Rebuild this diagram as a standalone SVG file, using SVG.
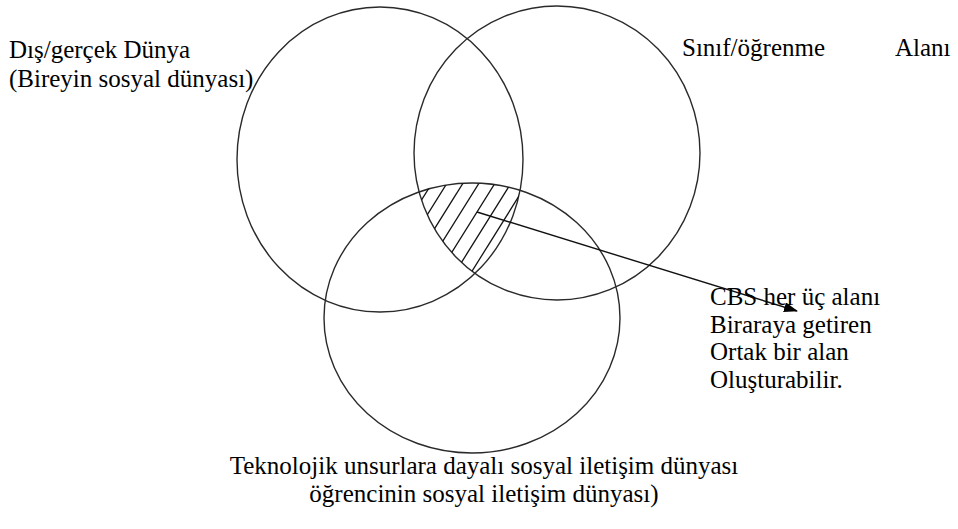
<svg xmlns="http://www.w3.org/2000/svg" width="958" height="529" viewBox="0 0 958 529">
  <style>
    .c { fill: none; stroke: #2a2a2a; stroke-width: 1.4; }
    .t { font-family: "Liberation Serif", "Times New Roman", serif; font-size: 25px; fill: #000; }
    .h { stroke: #111; stroke-width: 1.3; }
    .conn { stroke: #111; stroke-width: 1.4; fill: none; }
  </style>
  <defs>
    <clipPath id="k1"><ellipse cx="380" cy="159.5" rx="143" ry="152.5"/></clipPath>
    <clipPath id="k2"><ellipse cx="557" cy="153" rx="143" ry="147"/></clipPath>
    <clipPath id="k3"><ellipse cx="472" cy="318" rx="148" ry="135"/></clipPath>
    <marker id="ah" viewBox="0 0 14 10" refX="13" refY="5" markerWidth="14" markerHeight="10" markerUnits="userSpaceOnUse" orient="auto">
      <path d="M0,0 L14,5 L0,10 z" fill="#000"/>
    </marker>
  </defs>
  <rect width="958" height="529" fill="#fff"/>

  <g id="real-world">
    <ellipse class="c" cx="380" cy="159.5" rx="143" ry="152.5"/>
    <text class="t" x="9" y="58">Dış/gerçek Dünya</text>
    <text class="t" x="9" y="87">(Bireyin sosyal dünyası)</text>
  </g>

  <g id="classroom">
    <ellipse class="c" cx="557" cy="153" rx="143" ry="147"/>
    <text class="t" x="682" y="56">Sınıf/öğrenme</text>
    <text class="t" x="895" y="56">Alanı</text>
  </g>

  <g id="technology">
    <ellipse class="c" cx="472" cy="318" rx="148" ry="135"/>
    <text class="t" x="484" y="474" text-anchor="middle">Teknolojik unsurlara dayalı sosyal iletişim dünyası</text>
    <text class="t" x="484" y="502" text-anchor="middle">öğrencinin sosyal iletişim dünyası)</text>
  </g>

  <g id="common-area">
    <g clip-path="url(#k1)">
      <g clip-path="url(#k2)">
        <g clip-path="url(#k3)">
          <line class="h" x1="434" y1="180" x2="371.5" y2="280"/>
          <line class="h" x1="449" y1="180" x2="386.5" y2="280"/>
          <line class="h" x1="465" y1="180" x2="402.5" y2="280"/>
          <line class="h" x1="481" y1="180" x2="418.5" y2="280"/>
          <line class="h" x1="497" y1="180" x2="434.5" y2="280"/>
          <line class="h" x1="513" y1="180" x2="450.5" y2="280"/>
          <line class="h" x1="529" y1="180" x2="466.5" y2="280"/>
        </g>
      </g>
    </g>
  </g>

  <g id="connectors">
    <line class="conn" x1="477" y1="212" x2="797" y2="311" marker-end="url(#ah)"/>
  </g>

  <g id="note">
    <text class="t" x="710" y="305">CBS her üç alanı</text>
    <text class="t" x="710" y="333">Biraraya getiren</text>
    <text class="t" x="710" y="360">Ortak bir alan</text>
    <text class="t" x="710" y="388">Oluşturabilir.</text>
  </g>
</svg>
